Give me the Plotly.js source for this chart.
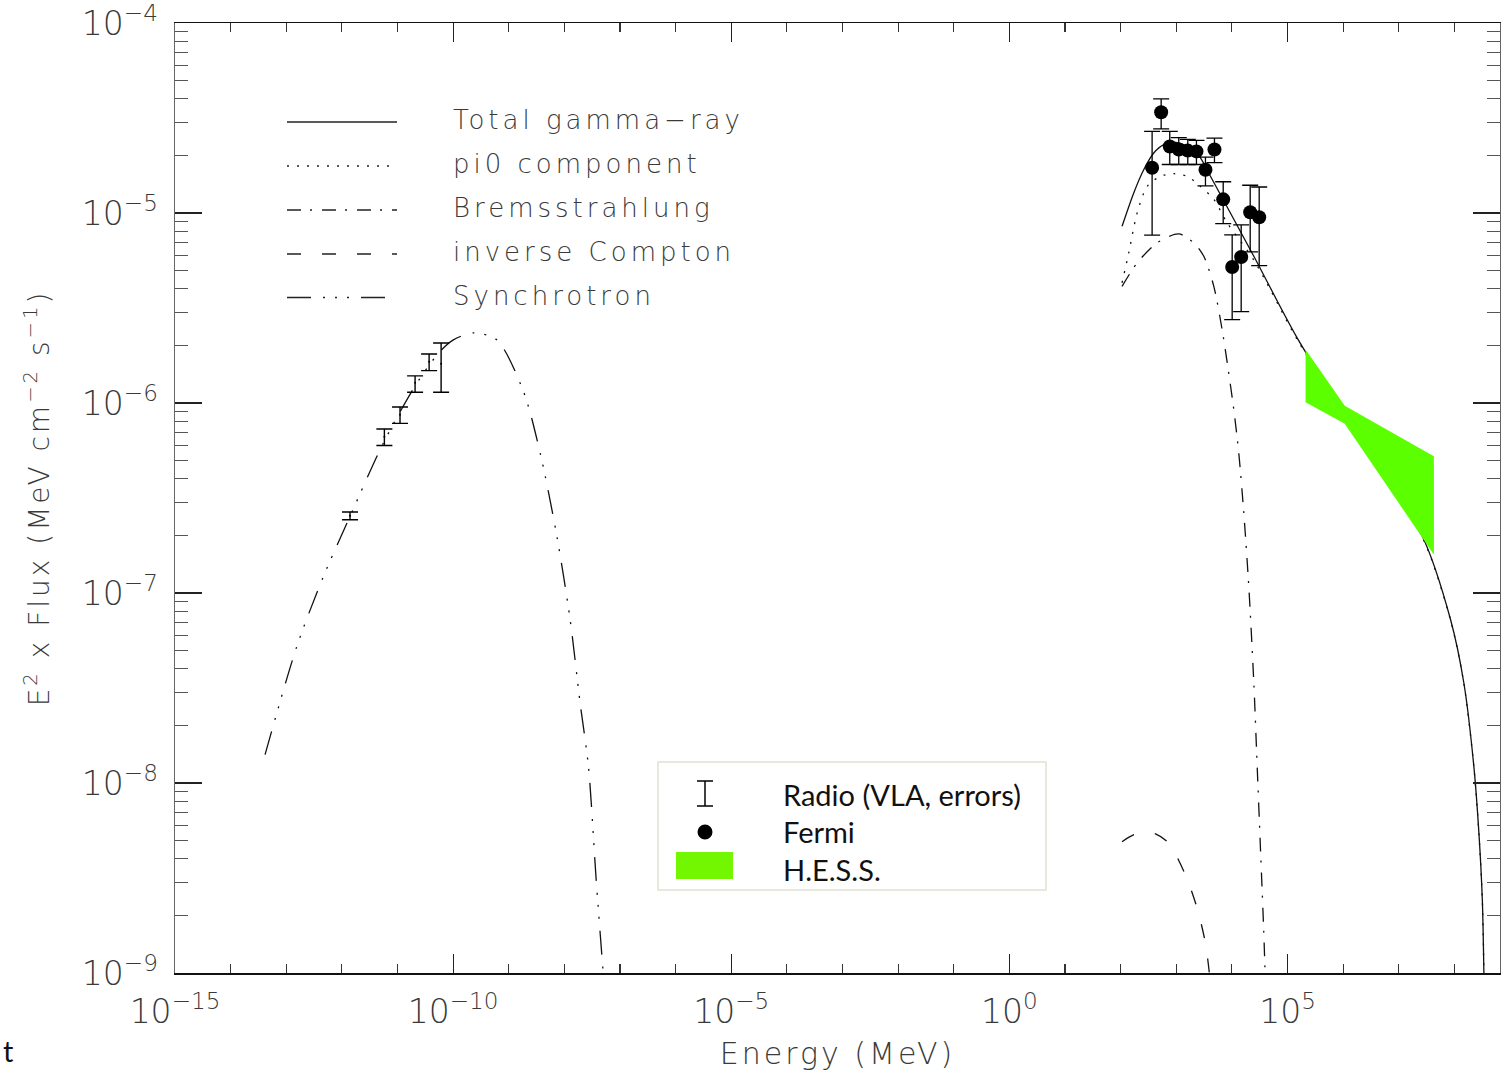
<!DOCTYPE html>
<html><head><meta charset="utf-8">
<script src="https://cdn.plot.ly/plotly-3.0.1.min.js"></script>
<style>body{margin:0;background:#fff}</style>
</head><body><div id="chart" style="width:1501px;height:1071px"></div>
<script>
// ---------------- data (E in MeV, E^2 x Flux in MeV cm^-2 s^-1) ----------------
const synchE = [4.16e-14, 1.55e-13, 4.65e-13, 1.40e-12, 5.57e-12, 2.22e-11, 5.83e-11, 1.01e-10, 2.32e-10, 6.1e-10, 1.84e-9, 3.67e-9, 7.33e-9, 1.27e-8, 1.92e-8, 2.71e-8, 3.73e-8, 4.99e-8];
const synchF = [1.41e-8, 5.24e-8, 1.22e-7, 2.53e-7, 6.16e-7, 1.27e-6, 1.87e-6, 2.15e-6, 2.34e-6, 2.15e-6, 1.15e-6, 5.46e-7, 1.99e-7, 7.23e-8, 2.63e-8, 1.22e-8, 3.09e-9, 1.0e-9];

const totalE = [106, 172, 260, 394, 596, 968, 1800, 2720, 4120, 24800, 1.49e5, 2.33e6, 2.65e7, 8.55e7, 1.48e8, 2.24e8, 2.76e8, 3.18e8, 3.40e8];
const totalF = [8.51e-6, 1.276e-5, 1.69e-5, 2.07e-5, 2.29e-5, 2.35e-5, 2.21e-5, 1.95e-5, 1.56e-5, 5.92e-6, 2.20e-6, 6.03e-7, 1.99e-7, 7.23e-8, 3.36e-8, 1.22e-8, 5.45e-9, 2.42e-9, 9.5e-10];

const pi0E = [106, 140, 198, 300, 520, 902, 1570, 2720, 4730, 8240, 24800, 1.49e5, 2.33e6, 2.65e7, 8.55e7, 1.48e8, 2.24e8, 2.76e8, 3.18e8, 3.40e8];
const pi0F = [4.29e-6, 6.17e-6, 1.00e-5, 1.38e-5, 1.56e-5, 1.61e-5, 1.56e-5, 1.38e-5, 1.18e-5, 8.87e-6, 5.65e-6, 2.16e-6, 5.95e-7, 1.97e-7, 7.18e-8, 3.34e-8, 1.21e-8, 5.42e-9, 2.42e-9, 9.5e-10];

const bremsE = [106, 198, 453, 1109, 2065, 3126, 4730, 6680, 8240, 10820, 13300, 16370, 20140, 24800, 28500, 32700, 37500, 39700];
const bremsF = [4.11e-6, 5.46e-6, 6.97e-6, 7.76e-6, 6.97e-6, 5.92e-6, 4.11e-6, 2.43e-6, 1.63e-6, 9.23e-7, 5.46e-7, 2.64e-7, 1.08e-7, 3.36e-8, 1.22e-8, 4.45e-9, 1.62e-9, 9.5e-10];

const icE = [106, 170, 279, 423, 725, 1462, 2377, 3350, 4010];
const icF = [4.91e-9, 5.33e-9, 5.51e-9, 5.40e-9, 4.84e-9, 3.28e-9, 2.19e-9, 1.43e-9, 9.5e-10];

const radioE = [1.40e-12, 5.81e-12, 1.11e-11, 2.07e-11, 3.70e-11, 6.08e-11];
const radioF = [2.55e-7, 6.65e-7, 8.67e-7, 1.28e-6, 1.65e-6, 1.61e-6];
const radioHigh = [2.67e-7, 7.30e-7, 9.53e-7, 1.39e-6, 1.81e-6, 2.07e-6];
const radioLow = [2.43e-7, 5.98e-7, 7.81e-7, 1.14e-6, 1.48e-6, 1.14e-6];

const fermiE = [368, 535, 764, 1109, 1611, 2307, 3350, 4864, 6980, 10120, 14690, 21330, 30970];
const fermiF = [1.73e-5, 3.39e-5, 2.24e-5, 2.16e-5, 2.13e-5, 2.11e-5, 1.69e-5, 2.16e-5, 1.18e-5, 5.20e-6, 5.87e-6, 1.01e-5, 9.49e-6];
const fermiHigh = [2.69e-5, 3.99e-5, 2.69e-5, 2.49e-5, 2.44e-5, 2.41e-5, 1.97e-5, 2.48e-5, 1.46e-5, 7.67e-6, 8.65e-6, 1.40e-5, 1.37e-5];
const fermiLow = [7.64e-6, 2.77e-5, 1.80e-5, 1.80e-5, 1.80e-5, 1.80e-5, 1.39e-5, 1.84e-5, 8.79e-6, 2.75e-6, 3.03e-6, 6.24e-6, 5.28e-6];

const hessE = [2.11e5, 1.07e6, 4.28e7];
const hessHigh = [1.91e-6, 9.68e-7, 5.24e-7];
const hessLow = [1.01e-6, 7.78e-7, 1.59e-7];

const modelLabels = ['Total gamma\u2212ray', 'pi0 component', 'Bremsstrahlung', 'inverse Compton', 'Synchrotron'];
const dataLabels = ['Radio (VLA, errors)', 'Fermi', 'H.E.S.S.'];

const xTickVals = [1e-15, 1e-10, 1e-5, 1, 1e5];
const xTickText = ['10<sup>\u221215</sup>', '10<sup>\u221210</sup>', '10<sup>\u22125</sup>', '10<sup>0</sup>', '10<sup>5</sup>'];
const yTickVals = [1e-9, 1e-8, 1e-7, 1e-6, 1e-5, 1e-4];
const yTickText = ['10<sup>\u22129</sup>', '10<sup>\u22128</sup>', '10<sup>\u22127</sup>', '10<sup>\u22126</sup>', '10<sup>\u22125</sup>', '10<sup>\u22124</sup>'];

// ---------------- styling ----------------
const IDL = {family: 'DejaVu Sans', weight: 200, color: '#3a3a3a'};
const LINE = '#111';
const dashes = {
  total: 'solid',
  pi0: '2px,8px',
  brems: '14px,9px,2px,10px',
  ic: '14px,21px',
  synch: '24px,12px,2px,10px,2px,10px,2px,12px'
};
const xMinor = [];
for (let d = -15; d <= 8; d++) xMinor.push(Math.pow(10, d));
const yMinor = [];
for (let d = -9; d <= -5; d++) for (let m = 2; m <= 9; m++) yMinor.push(m * Math.pow(10, d));

const L = 175, R = 1500, T = 23, B = 973;
const px = x => (x - L) / (R - L);
const py = y => (B - y) / (B - T);

function curve(x, y, dash) {
  return {x, y, type: 'scatter', mode: 'lines', line: {color: LINE, width: 1.3, dash, shape: 'spline', smoothing: 0.8}, hoverinfo: 'skip', showlegend: false};
}

const traces = [
  curve(synchE, synchF, dashes.synch),
  curve(pi0E, pi0F, dashes.pi0),
  curve(bremsE, bremsF, dashes.brems),
  curve(icE, icF, dashes.ic),
  curve(totalE, totalF, dashes.total),
  {x: hessE.concat(hessE.slice().reverse()), y: hessHigh.concat(hessLow.slice().reverse()),
   type: 'scatter', mode: 'lines', fill: 'toself', fillcolor: '#5cff00', line: {width: 0, color: '#5cff00'}, showlegend: false, hoverinfo: 'skip'},
  {x: radioE, y: radioF, type: 'scatter', mode: 'markers', marker: {color: '#000', size: 2},
   error_y: {type: 'data', symmetric: false, array: radioHigh.map((h, i) => h - radioF[i]), arrayminus: radioLow.map((l, i) => radioF[i] - l), color: '#000', thickness: 1.4, width: 8},
   showlegend: false, hoverinfo: 'skip'},
  {x: fermiE, y: fermiF, type: 'scatter', mode: 'markers', marker: {color: '#000', size: 14, symbol: 'circle'},
   error_y: {type: 'data', symmetric: false, array: fermiHigh.map((h, i) => h - fermiF[i]), arrayminus: fermiLow.map((l, i) => fermiF[i] - l), color: '#000', thickness: 1.3, width: 8},
   showlegend: false, hoverinfo: 'skip'}
];

// legend (IDL style) rows
const rowY = [122, 166, 210, 254, 297.5];
const rowDash = [dashes.total, dashes.pi0, dashes.brems, dashes.ic, dashes.synch];
const shapes = [];
const annotations = [];
rowY.forEach((y, i) => {
  shapes.push({type: 'line', xref: 'paper', yref: 'paper', x0: px(287), x1: px(397), y0: py(y), y1: py(y), line: {color: '#222', width: 1.3, dash: rowDash[i]}});
  annotations.push({xref: 'paper', yref: 'paper', x: px(451), y: py(y - 2), xanchor: 'left', yanchor: 'middle', align: 'left', showarrow: false, text: modelLabels[i], font: {family: IDL.family, weight: IDL.weight, size: 26, color: IDL.color}});
});

// data legend box
shapes.push({type: 'rect', xref: 'paper', yref: 'paper', x0: px(658), x1: px(1046), y0: py(890), y1: py(762), line: {color: '#e8e8dc', width: 2}, fillcolor: 'rgba(0,0,0,0)'});
shapes.push({type: 'line', xref: 'paper', yref: 'paper', x0: px(705), x1: px(705), y0: py(806), y1: py(781), line: {color: '#000', width: 1.5}});
shapes.push({type: 'line', xref: 'paper', yref: 'paper', x0: px(697), x1: px(713), y0: py(781), y1: py(781), line: {color: '#000', width: 1.5}});
shapes.push({type: 'line', xref: 'paper', yref: 'paper', x0: px(697), x1: px(713), y0: py(806), y1: py(806), line: {color: '#000', width: 1.5}});
shapes.push({type: 'circle', xref: 'paper', yref: 'paper', x0: px(697.5), x1: px(712.5), y0: py(839.5), y1: py(824.5), fillcolor: '#000', line: {color: '#000', width: 0}});
shapes.push({type: 'rect', xref: 'paper', yref: 'paper', x0: px(676), x1: px(733), y0: py(879), y1: py(852), fillcolor: '#73f700', line: {width: 0}});
const dataRowY = [794, 832, 869];
dataLabels.forEach((t, i) => {
  annotations.push({xref: 'paper', yref: 'paper', x: px(781), y: py(dataRowY[i]), xanchor: 'left', yanchor: 'middle', align: 'left', showarrow: false, text: t, font: {family: 'Lato', size: 29, color: '#111'}});
});
annotations.push({xref: 'paper', yref: 'paper', x: px(1), y: py(1050), xanchor: 'left', yanchor: 'middle', showarrow: false, text: 't', font: {family: 'Lato', size: 29, color: '#111'}});

const axisCommon = {
  type: 'log', showgrid: false, zeroline: false, showline: true, linewidth: 1.5,
  ticks: 'inside', tickwidth: 1.2, mirror: 'ticks', tickmode: 'array', ticklabeloverflow: 'allow',
  tickfont: {family: IDL.family, weight: IDL.weight, size: 33, color: IDL.color}
};

const layout = {
  width: 1501, height: 1071,
  margin: {l: L, r: 1501 - R, t: T, b: 1071 - B},
  paper_bgcolor: '#fff', plot_bgcolor: '#fff',
  showlegend: false,
  xaxis: Object.assign({}, axisCommon, {
    range: [-15, 8.82], tickvals: xTickVals, ticktext: xTickText, ticklen: 19, linecolor: '#111', tickcolor: '#222',
    ticklabelstandoff: 9,
    minor: {tickmode: 'array', tickvals: xMinor, ticks: 'inside', ticklen: 9, tickwidth: 1.1, tickcolor: '#333'},
    title: {text: 'Energy (MeV)', font: {family: IDL.family, weight: IDL.weight, size: 30, color: IDL.color}, standoff: 18}
  }),
  yaxis: Object.assign({}, axisCommon, {
    range: [-9, -4], tickvals: yTickVals, ticktext: yTickText, ticklen: 27, linecolor: '#666', tickcolor: '#222',
    ticklabelstandoff: 9,
    minor: {tickmode: 'array', tickvals: yMinor, ticks: 'inside', ticklen: 13, tickwidth: 1.1, tickcolor: '#555'},
    title: {text: 'E<sup>2</sup> x Flux (MeV cm<sup>\u22122</sup> s<sup>\u22121</sup>)', font: {family: IDL.family, weight: IDL.weight, size: 28, color: IDL.color}, standoff: 24}
  }),
  shapes, annotations
};

Plotly.newPlot('chart', traces, layout, {staticPlot: true}).then(gd => {
  gd.querySelectorAll('.annotation-text').forEach(t => {
    if (modelLabels.includes(t.textContent)) t.style.letterSpacing = '4px';
  });
  gd.querySelectorAll('.xtitle, .ytitle').forEach(t => { t.style.letterSpacing = '3px'; });
});
</script></body></html>
